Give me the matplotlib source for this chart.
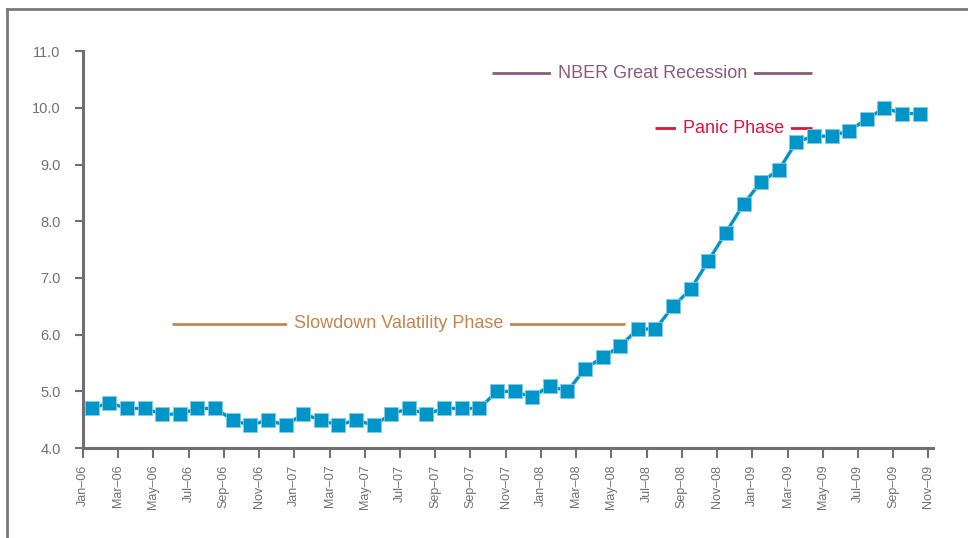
import matplotlib.pyplot as plt
from matplotlib.lines import Line2D

# monthly unemployment rate, Jan-06 .. Dec-09
rate_2006 = [4.7, 4.8, 4.7, 4.7, 4.6, 4.6, 4.7, 4.7, 4.5, 4.4, 4.5, 4.4]
rate_2007 = [4.6, 4.5, 4.4, 4.5, 4.4, 4.6, 4.7, 4.6, 4.7, 4.7, 4.7, 5.0]
rate_2008 = [5.0, 4.9, 5.1, 5.0, 5.4, 5.6, 5.8, 6.1, 6.1, 6.5, 6.8, 7.3]
rate_2009 = [7.8, 8.3, 8.7, 8.9, 9.4, 9.5, 9.5, 9.6, 9.8, 10.0, 9.9, 9.9]
rates = rate_2006 + rate_2007 + rate_2008 + rate_2009

tick_labels = ['Jan–06', 'Mar–06', 'May–06', 'Jul–06', 'Sep–06', 'Nov–06',
               'Jan–07', 'Mar–07', 'May–07', 'Jul–07', 'Sep–07', 'Sep–07',
               'Nov–07', 'Jan–08', 'Mar–08', 'May–08', 'Jul–08', 'Sep–08',
               'Nov–08', 'Jan–09', 'Mar–09', 'May–09', 'Jul–09', 'Sep–09',
               'Nov–09']

# phases: label, start / end month index, level, colour
phase_names = ['NBER Great Recession', 'Panic Phase', 'Slowdown Valatility Phase']
phase_start = [22.75, 31.95, 4.55]
phase_end = [40.9, 40.9, 30.3]
phase_level = [10.61, 9.64, 6.19]
phase_colors = ['#8a5a7f', '#e2123f', '#c6844f']

plt.rcParams['font.family'] = ['Liberation Sans', 'DejaVu Sans']
axis_grey = '#6f7073'
text_grey = '#707174'

fig = plt.figure(figsize=(9.68, 5.38), dpi=100)
ax = fig.add_axes([0.0857, 0.167, 0.878, 0.738])

x = list(range(len(rates)))
ax.plot(x, rates, '-', color='#0095c8', lw=2.4, marker='s', ms=9.5,
        markerfacecolor='#0095c8', markeredgecolor='#7fcbe6', markeredgewidth=0.6,
        zorder=3)

for name, x0, x1, lev, col in zip(phase_names, phase_start, phase_end, phase_level, phase_colors):
    ax.plot([x0, x1], [lev, lev], color=col, lw=2, solid_capstyle='butt', zorder=2)
    ax.text((x0 + x1) / 2, lev, name, color=col, fontsize=13, ha='center', va='center',
            bbox=dict(facecolor='white', edgecolor='none', pad=5), zorder=2.5)

ax.set_xlim(-0.5, 47.75)
ax.set_ylim(4.0, 11.0)
ax.set_yticks([4.0, 5.0, 6.0, 7.0, 8.0, 9.0, 10.0, 11.0])
ax.set_yticklabels(['%.1f' % v for v in ax.get_yticks()])
ax.set_xticks([i * 2 - 0.5 for i in range(len(tick_labels))])
ax.set_xticklabels(tick_labels, rotation=90)

for side in ['top', 'right']:
    ax.spines[side].set_visible(False)
for side in ['left', 'bottom']:
    ax.spines[side].set_color(axis_grey)
    ax.spines[side].set_linewidth(2.2)
ax.tick_params(axis='y', colors=axis_grey, labelcolor=text_grey, labelsize=10.5,
               length=6, width=1.5, pad=10)
ax.tick_params(axis='x', colors=axis_grey, labelcolor=text_grey, labelsize=9,
               length=7, width=1.5, pad=5)

# page frame
fig.add_artist(Line2D([0.0072, 0.0072], [0.0, 0.983], color='#7a7a7a', lw=2,
                      transform=fig.transFigure))
fig.add_artist(Line2D([0.0072, 1.0], [0.983, 0.983], color='#7a7a7a', lw=2,
                      transform=fig.transFigure))

fig.savefig('out.png', dpi=100)
